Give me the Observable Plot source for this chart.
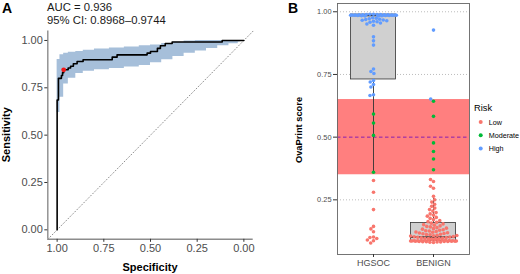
<!DOCTYPE html>
<html><head><meta charset="utf-8">
<script src="https://cdn.jsdelivr.net/npm/d3@7"></script>
<script src="https://cdn.jsdelivr.net/npm/@observablehq/plot@0.6"></script>
<style>
body{margin:0;background:#fff}
#root{position:relative;width:520px;height:274px;overflow:hidden;font-family:'Liberation Sans',Arial,Helvetica,sans-serif;background:#fff}
#plotB [aria-label="y-axis tick label"]{font-size:7.4px}
#plotB [aria-label="x-axis tick label"]{font-size:9px}
</style></head><body><div id="root"></div><script>
// ---------- Panel A data (ROC) ----------
const rocSpec = [1.000, 1.000, 0.993, 0.977, 0.971, 0.965, 0.941, 0.928, 0.913, 0.893, 0.861, 0.705, 0.679, 0.518, 0.500, 0.463, 0.447, 0.421, 0.384, 0.116, 0.000];
const rocSens = [0.000, 0.686, 0.800, 0.815, 0.830, 0.845, 0.855, 0.864, 0.877, 0.889, 0.898, 0.912, 0.924, 0.933, 0.942, 0.958, 0.972, 0.984, 0.992, 1.000, 1.000];
const ciSpec = [1.00, 0.985, 0.965, 0.94, 0.90, 0.86, 0.80, 0.72, 0.64, 0.56, 0.50, 0.44, 0.38, 0.32, 0.26, 0.20, 0.14, 0.08, 0.03, 0.02];
const ciLow  = [0.62, 0.70, 0.77, 0.80, 0.825, 0.838, 0.845, 0.852, 0.860, 0.868, 0.882, 0.898, 0.915, 0.932, 0.945, 0.958, 0.972, 0.983, 0.992, 0.995];
const ciHigh = [0.90, 0.925, 0.932, 0.938, 0.942, 0.948, 0.955, 0.960, 0.965, 0.972, 0.976, 0.984, 0.990, 0.997, 1.0, 1.0, 1.0, 1.0, 1.0, 1.0];
const bestSpec = [0.965], bestSens = [0.845];
const aucValue = "0.936", aucCI = ["0.8968", "0.9744"];
const tickValsA = [0, 0.25, 0.5, 0.75, 1];
const specDomain = [1.05, -0.05], sensDomain = [-0.05, 1.05];

// ---------- Panel B data ----------
const groups = ["HGSOC", "BENIGN"];
const hgsoc = [
  0.990, 0.990, 0.989, 0.989, 0.989, 0.988, 0.988, 0.988, 0.988, 0.987, 0.987, 0.987, 0.987, 0.986, 0.986, 0.986, 0.986, 0.985, 0.985, 0.985, 0.984, 0.984, 0.983, 0.983,
  0.976, 0.974, 0.972, 0.970, 0.969, 0.967, 0.966, 0.964, 0.962, 0.960, 0.958, 0.955, 0.951, 0.946,
  0.900, 0.884, 0.867, 0.772, 0.762, 0.754,
  0.726, 0.720, 0.710, 0.700, 0.669, 0.666,
  0.592, 0.556, 0.507, 0.360,
  0.327, 0.280, 0.211, 0.144, 0.134, 0.123, 0.102, 0.100, 0.096, 0.090, 0.087, 0.078
];
const benign = [
  0.927, 0.652, 0.643, 0.583, 0.477, 0.443, 0.413, 0.370,
  0.331, 0.323, 0.304, 0.296, 0.264, 0.250, 0.241, 0.232, 0.224, 0.217, 0.211, 0.205, 0.199, 0.194, 0.189, 0.185, 0.180, 0.176, 0.171, 0.167, 0.163, 0.160,
  0.157, 0.154, 0.151, 0.149, 0.146, 0.144, 0.142, 0.139, 0.137, 0.135, 0.133, 0.131, 0.129, 0.127, 0.126, 0.124, 0.122, 0.121, 0.119, 0.118,
  0.116, 0.115, 0.113, 0.112, 0.111, 0.109, 0.108, 0.107, 0.106, 0.104, 0.103, 0.102, 0.101, 0.100, 0.099, 0.098, 0.097, 0.097, 0.096, 0.095,
  0.094, 0.094, 0.093, 0.092, 0.092, 0.091, 0.090, 0.090, 0.089, 0.089, 0.088, 0.088, 0.087, 0.087, 0.087, 0.086, 0.086, 0.086, 0.085, 0.085,
  0.085, 0.084, 0.084, 0.084, 0.083, 0.083, 0.082, 0.082, 0.081, 0.080
];
const swarmOrder = ["descending", "ascending"];
const boxQ1 = [0.730, 0.086];
const boxMedian = [0.986, 0.101];
const boxQ3 = [0.989, 0.158];
const boxLow = [0.360, 0.080];
const boxHigh = [0.990, 0.255];
const riskLevels = ["Low", "Moderate", "High"];
const riskColors = ["#F8766D", "#00BA38", "#619CFF"];
const riskCuts = [0.35, 0.65];
const cutoffLine = [0.5];
const tickValsB = [0.25, 0.5, 0.75, 1];
const xDomainB = [0.4, 2.6], yDomainB = [0.032, 1.033];

const font = "'Liberation Sans', Arial, Helvetica, sans-serif";
const root = document.getElementById("root");

// ---------- Panel A ----------
const rocRows = rocSpec.map((s, i) => ({spec: s, sens: rocSens[i]}));
const ciRows = ciSpec.map((s, i) => ({spec: s, lo: ciLow[i], hi: ciHigh[i]}));
const bestRows = bestSpec.map((s, i) => ({spec: s, sens: bestSens[i]}));
const diagRows = specDomain.map(s => ({spec: s, sens: 1 - s}));

const plotA = Plot.plot({
  width: 260, height: 274,
  marginLeft: 47.3, marginRight: 7.3, marginTop: 30.5, marginBottom: 35.2,
  x: {domain: specDomain},
  y: {domain: sensDomain},
  style: {fontFamily: font, fontSize: "11px", color: "#4d4d4d", background: "transparent", overflow: "visible"},
  marks: [
    Plot.areaY(ciRows, {x: "spec", y1: "lo", y2: "hi", curve: "step-after", fill: "#a6bfda"}),
    Plot.line(diagRows, {x: "spec", y: "sens", stroke: "#8f8f8f", strokeWidth: 1, strokeDasharray: "1,2.2"}),
    Plot.line(rocRows, {x: "spec", y: "sens", curve: "step-after", stroke: "#000", strokeWidth: 1.6}),
    Plot.dot(bestRows, {x: "spec", y: "sens", r: 2.4, fill: "#f01818", stroke: "none"}),
    Plot.ruleX([specDomain[0]], {stroke: "#8c8c8c", strokeWidth: 1.4}),
    Plot.ruleY([sensDomain[0]], {stroke: "#8c8c8c", strokeWidth: 1.4}),
    Plot.axisX({ticks: tickValsA, tickFormat: ".2f", tickSize: 3, tickPadding: 2, label: null, stroke: "#333"}),
    Plot.axisY({ticks: tickValsA, tickFormat: ".2f", tickSize: 3, tickPadding: 2, label: null, stroke: "#333"})
  ]
});
plotA.style.position = "absolute"; plotA.style.left = "0px"; plotA.style.top = "0px";
root.appendChild(plotA);

// ---------- Panel B ----------
const WB = 260, HB = 274, mlB = 77, mrB = 51, mtB = 3, mbB = 20;
const yPx = d3.scaleLinear(yDomainB, [HB - mbB, mtB]);
const pxPerUnit = (WB - mlB - mrB) / (xDomainB[1] - xDomainB[0]);
const dotR = 1.8, dotD = 3.6, corralHalf = 24;

function swarm(vals, order) {
  const sign = order === "descending" ? -1 : 1;
  const pts = vals.map(v => ({v, y: yPx(v)})).sort((a, b) => sign * (a.v - b.v));
  const placed = [];
  for (const p of pts) {
    const iv = [];
    for (const q of placed) {
      const dy = Math.abs(q.y - p.y);
      if (dy < dotD) { const w = Math.sqrt(dotD * dotD - dy * dy); iv.push([q.x - w, q.x + w]); }
    }
    const cands = [0];
    for (const [a, b] of iv) cands.push(a, b);
    cands.sort((a, b) => Math.abs(a) - Math.abs(b));
    p.x = cands.find(c => iv.every(([a, b]) => c <= a + 1e-6 || c >= b - 1e-6));
    placed.push(p);
  }
  for (const p of pts) {
    if (Math.abs(p.x) > corralHalf) p.x = ((p.x + corralHalf) % (2 * corralHalf) + 2 * corralHalf) % (2 * corralHalf) - corralHalf;
  }
  return pts;
}
const riskOf = v => v < riskCuts[0] ? riskLevels[0] : v < riskCuts[1] ? riskLevels[1] : riskLevels[2];
const dotsB = [hgsoc, benign].flatMap((vals, gi) =>
  swarm(vals, swarmOrder[gi]).map(p => ({group: groups[gi], x: gi + 1 + p.x / pxPerUnit, v: p.v, risk: riskOf(p.v)})));
const boxRows = groups.map((g, i) => ({pos: i + 1, q1: boxQ1[i], med: boxMedian[i], q3: boxQ3[i], lo: boxLow[i], hi: boxHigh[i]}));
const boxHalf = 0.375;
const bandRows = [{lo: riskCuts[0], hi: riskCuts[1]}];

const plotB = Plot.plot({
  width: WB, height: HB,
  marginLeft: mlB, marginRight: mrB, marginTop: mtB, marginBottom: mbB,
  x: {domain: xDomainB},
  y: {domain: yDomainB},
  color: {domain: riskLevels, range: riskColors},
  style: {fontFamily: font, fontSize: "9px", color: "#4d4d4d", background: "transparent", overflow: "visible"},
  marks: [
    Plot.ruleY(tickValsB, {stroke: "#b5b5b5", strokeWidth: 0.9, strokeDasharray: "1,2"}),
    Plot.rect(bandRows, {x1: xDomainB[0], x2: xDomainB[1], y1: "lo", y2: "hi", fill: "#ff7f7f"}),
    Plot.ruleY(cutoffLine, {stroke: "#8a1fb0", strokeWidth: 1, strokeDasharray: "3.5,2.5"}),
    Plot.ruleX(boxRows, {x: "pos", y1: "lo", y2: "q1", stroke: "#333", strokeWidth: 0.9}),
    Plot.ruleX(boxRows, {x: "pos", y1: "q3", y2: "hi", stroke: "#333", strokeWidth: 0.9}),
    Plot.rect(boxRows, {x1: d => d.pos - boxHalf, x2: d => d.pos + boxHalf, y1: "q1", y2: "q3", fill: "#d0d0d0", stroke: "#333", strokeWidth: 0.8}),
    Plot.ruleY(boxRows, {y: "med", x1: d => d.pos - boxHalf, x2: d => d.pos + boxHalf, stroke: "#333", strokeWidth: 1.7}),
    Plot.dot(dotsB, {x: "x", y: "v", r: dotR, fill: "risk", stroke: "none"}),
    Plot.frame({stroke: "#666", strokeWidth: 0.9}),
    Plot.axisX({ticks: [1, 2], tickFormat: i => groups[i - 1], tickSize: 3, tickPadding: 2, label: null, stroke: "#333", fontSize: 9}),
    Plot.axisY({ticks: tickValsB, tickFormat: ".2f", tickSize: 4, tickPadding: 2, label: null, stroke: "#333", fontSize: 7.4})
  ]
});
plotB.id = "plotB";
plotB.style.position = "absolute"; plotB.style.left = "260px"; plotB.style.top = "0px";
root.appendChild(plotB);

// ---------- Overlay texts & legend ----------
const ov = d3.select(root).append("svg").attr("width", 520).attr("height", 274)
  .style("position", "absolute").style("left", "0px").style("top", "0px")
  .attr("font-family", font);
function txt(x, y, s, size, weight, opts = {}) {
  const t = ov.append("text").attr("x", x).attr("y", y).attr("font-size", size)
    .attr("font-weight", weight).attr("fill", opts.fill || "#000").text(s);
  if (opts.anchor) t.attr("text-anchor", opts.anchor);
  if (opts.rotate) t.attr("transform", `rotate(-90 ${x} ${y})`);
  return t;
}
txt(2, 12.5, "A", 14, "bold");
txt(47, 11, `AUC = ${aucValue}`, 11.3, "normal", {fill: "#1a1a1a"});
txt(47, 23.5, `95% CI: ${aucCI[0]}\u2013${aucCI[1]}`, 11.3, "normal", {fill: "#1a1a1a"});
txt(10.5, 134.7, "Sensitivity", 11, "bold", {anchor: "middle", rotate: true});
txt(150, 270.5, "Specificity", 11, "bold", {anchor: "middle"});
txt(288, 12.5, "B", 14, "bold");
txt(302, 130, "OvaPrint score", 9.3, "bold", {anchor: "middle", rotate: true});
txt(474, 110.7, "Risk", 9.3, "normal");
riskLevels.forEach((r, i) => {
  const cy = 122 + i * 13.2;
  ov.append("circle").attr("cx", 480.7).attr("cy", cy).attr("r", 2).attr("fill", riskColors[i]);
  txt(488.7, cy + 2.5, r, 7.2, "normal");
});
</script></body></html>
